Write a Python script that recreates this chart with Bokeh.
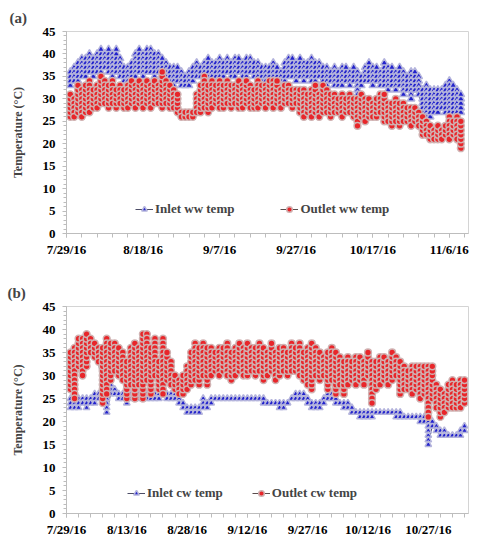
import numpy as np
from bokeh.plotting import figure
from bokeh.models import FixedTicker, Legend, LegendItem, Range1d
from bokeh.layouts import column
from bokeh.embed import file_html
from bokeh.resources import INLINE

FONT = "Liberation Serif"

# ---------------- Panel (a): wastewater (ww) -----------------
a_days = list(range(1, 104))  # days after 7/29/16
a_in_lo = [33,34,34,35,35,36,35,36,36,37, 36,35,36,35,34,33,34,35,36,35,
           36,36,35,36,35,34,34,33,34,33, 33,33,34,35,35,34,35,35,34,35,
           35,36,35,35,36,35,35,36,35,34, 34,34,33,34,33,31,34,35,35,34,
           35,34,35,34,34,35,33,33,34,33, 33,33,34,33,34,31,33,34,34,33,
           34,33,33,32,33,32,33,31,32,30, 32,31,27,25,26,27,27,28,27,27,
           27,27,27]
a_in_hi = [36,37,38,39,39,40,39,40,41,40, 41,40,41,39,37,37,38,40,41,40,
           41,41,40,40,39,38,37,37,37,36, 35,36,37,38,37,38,39,38,38,39,
           38,39,38,39,39,38,39,39,38,38, 37,37,37,38,37,36,38,39,39,38,
           39,38,38,39,38,38,37,37,36,37, 36,37,37,36,37,36,35,37,38,37,
           37,36,38,37,37,36,37,36,35,36, 36,35,32,33,32,32,32,32,33,34,
           33,32,31]
a_out_lo = [26,26,27,26,27,27,28,28,29,29, 28,29,28,29,28,28,29,28,29,28,
            29,28,29,29,28,29,28,28,27,26, 26,26,26,27,27,28,27,28,29,28,
            28,29,28,29,28,28,29,28,28,28, 29,28,29,28,29,28,29,29,28,29,
            27,26,27,26,27,26,27,27,26,27, 27,26,27,27,26,24,26,25,26,26,
            26,27,25,25,24,25,24,25,25,24, 25,24,22,22,21,21,21,21,22,21,
            22,21,19]
a_out_hi = [31,30,33,32,33,34,32,33,35,34, 33,34,32,33,32,33,34,33,34,33,
            34,33,34,33,36,34,33,32,31,27, 27,27,27,31,33,35,33,34,33,34,
            33,34,33,33,34,33,34,33,32,34, 33,33,34,34,34,32,33,33,32,32,
            32,32,31,32,33,31,33,32,31,31, 30,31,30,31,30,30,31,30,30,29,
            30,31,31,29,29,30,29,29,28,28, 28,27,26,25,24,23,24,23,24,26,
            25,26,25]
a_tick_days = [0, 20, 40, 60, 80, 100]
a_tick_labels = ["7/29/16", "8/18/16", "9/7/16", "9/27/16", "10/17/16", "11/6/16"]

# ---------------- Panel (b): cooling water (cw) -----------------
b_days = list(range(1, 100))
b_in_lo = [23,23,23,24,23,24,24,25,25,22, 26,26,25,25,24,25,25,25,25,25,
           25,25,25,26,25,25,25,24,23,22, 22,22,22,23,23,24,25,25,25,25,
           25,25,25,25,25,25,25,25,24,24, 24,24,23,23,24,25,25,25,25,24,
           23,23,23,24,25,25,24,24,23,23, 22,22,21,21,21,21,22,22,22,22,
           22,21,21,21,21,21,21,20,20,15, 19,18,17,17,17,17,17,17,18]
b_in_hi = [25,24,25,25,25,25,26,26,26,30, 28,27,26,26,25,26,26,26,27,26,
           26,26,26,26,26,26,26,25,24,23, 23,23,23,25,24,25,25,25,25,25,
           25,25,25,25,25,25,25,25,25,24, 24,24,24,24,24,25,26,26,26,25,
           24,24,24,25,26,26,25,24,24,24, 23,22,22,22,22,22,22,22,22,22,
           22,22,22,21,21,21,21,21,21,20, 20,19,18,18,17,17,17,18,19]
b_out_lo = [27,25,32,30,32,35,34,33,24,26, 29,31,30,29,25,28,25,28,25,29,
            26,30,27,26,29,28,27,26,26,27, 28,29,28,30,28,30,31,30,31,30,
            29,30,31,30,30,31,30,31,29,30, 31,29,30,31,30,31,31,30,29,28,
            27,30,29,30,27,29,26,28,26,28, 29,28,29,28,30,24,27,28,29,28,
            29,30,26,27,27,26,27,25,26,21, 25,23,21,22,23,23,23,23,24]
b_out_hi = [35,36,38,38,39,38,37,36,36,38, 37,37,36,35,33,36,37,36,39,39,
            36,38,33,38,35,33,30,29,30,32, 35,37,36,37,36,36,35,36,36,37,
            35,36,37,36,37,36,36,37,36,35, 37,35,36,36,35,37,36,37,35,36,
            37,36,35,34,35,36,35,34,33,34, 33,34,34,33,35,33,33,34,34,33,
            35,34,33,32,31,32,32,32,32,32, 32,28,27,26,28,29,28,29,29]
b_tick_days = [0, 15, 30, 45, 60, 75, 90]
b_tick_labels = ["7/29/16", "8/13/16", "8/28/16", "9/12/16", "9/27/16", "10/12/16", "10/27/16"]


def readings(days, lo, hi):
    """Each day's integer readings between its low and high, drawn as a column."""
    xs, ys = [], []
    for i, (d, l, h) in enumerate(zip(days, lo, hi)):
        vals = list(range(l, h + 1))
        if i % 2:
            vals = vals[::-1]
        xs += [d] * len(vals)
        ys += vals
    return xs, ys


def make_panel(tag, days, in_lo, in_hi, out_lo, out_hi, in_name, out_name,
               tick_days, tick_labels, minor_step, x_end, height, top, bottom,
               left, leg_x, leg_y, leg_spacing, tri_size, title_off, title_standoff):
    p = figure(width=482, height=height, output_backend="svg", toolbar_location=None,
               x_range=Range1d(0, x_end), y_range=Range1d(0, 45),
               min_border_left=left, min_border_right=14,
               min_border_top=top, min_border_bottom=bottom)
    p.title.text = tag
    p.title.align = "left"
    p.title.offset = title_off
    p.title.text_font = FONT
    p.title.text_font_size = "15px"
    p.title.text_font_style = "bold"
    p.title.standoff = title_standoff
    p.xgrid.visible = False
    p.ygrid.visible = False
    p.outline_line_color = "#d4d4d4"
    p.background_fill_color = "white"

    xi, yi = readings(days, in_lo, in_hi)
    xo, yo = readings(days, out_lo, out_hi)

    l1 = p.line(xi, yi, line_color="#202040", line_width=0.8)
    s1 = p.scatter(xi, yi, marker="triangle", size=tri_size, fill_color="#2222cc",
                   line_color="#b4b4dc", line_width=1.5)
    l2 = p.line(xo, yo, line_color="#302020", line_width=0.8)
    s2 = p.scatter(xo, yo, marker="circle", size=6.8, fill_color="#e8262a",
                   line_color="#d0b2b2", line_width=1.5)

    leg = Legend(items=[LegendItem(label=in_name, renderers=[l1, s1]),
                        LegendItem(label=out_name, renderers=[l2, s2])],
                 orientation="horizontal", location=(leg_x, leg_y),
                 border_line_color=None, background_fill_alpha=0,
                 padding=0, margin=0, spacing=leg_spacing,
                 glyph_width=18, glyph_height=14, label_standoff=2,
                 label_text_font=FONT, label_text_font_size="13px",
                 label_text_font_style="bold", label_height=14)
    p.add_layout(leg, "center")

    # y axis
    p.yaxis.ticker = FixedTicker(ticks=list(range(0, 46, 5)), minor_ticks=list(range(0, 46)))
    p.yaxis.axis_label = "Temperature (°C)"
    p.yaxis.axis_label_text_font = FONT
    p.yaxis.axis_label_text_font_size = "12px"
    p.yaxis.axis_label_text_font_style = "bold"
    p.yaxis.axis_label_standoff = 15
    # x axis
    minors = list(range(0, int(x_end) + 1, minor_step))
    p.xaxis.ticker = FixedTicker(ticks=tick_days, minor_ticks=minors)
    p.xaxis.major_label_overrides = {d: lab for d, lab in zip(tick_days, tick_labels)}

    for ax in (p.xaxis[0], p.yaxis[0]):
        ax.axis_line_color = "#bdbdbd"
        ax.major_tick_line_color = "#bdbdbd"
        ax.minor_tick_line_color = "#bdbdbd"
        ax.major_tick_in = 0
        ax.minor_tick_in = 0
        ax.major_tick_out = 4
        ax.major_label_text_font = FONT
        ax.major_label_text_font_size = "13px"
        ax.major_label_text_font_style = "bold"
        ax.major_label_text_color = "black"
    p.xaxis.minor_tick_out = 4
    p.yaxis.minor_tick_out = 3
    p.yaxis.major_label_standoff = 7
    p.xaxis.major_label_standoff = 4
    return p


pa = make_panel("(a)", a_days, a_in_lo, a_in_hi, a_out_lo, a_out_hi,
                "Inlet ww temp", "Outlet ww temp", a_tick_days, a_tick_labels,
                4, 105, 270, 31, 37, 64, 69, 16, 46, 7.5, -57, 11)
pb = make_panel("(b)", b_days, b_in_lo, b_in_hi, b_out_lo, b_out_hi,
                "Inlet cw temp", "Outlet cw temp", b_tick_days, b_tick_labels,
                3, 100, 273, 36, 30, 66, 61, 12, 29, 6.5, -59, 11)

layout = column(pa, pb, spacing=0)
open("out.html", "w").write(file_html(layout, INLINE))
